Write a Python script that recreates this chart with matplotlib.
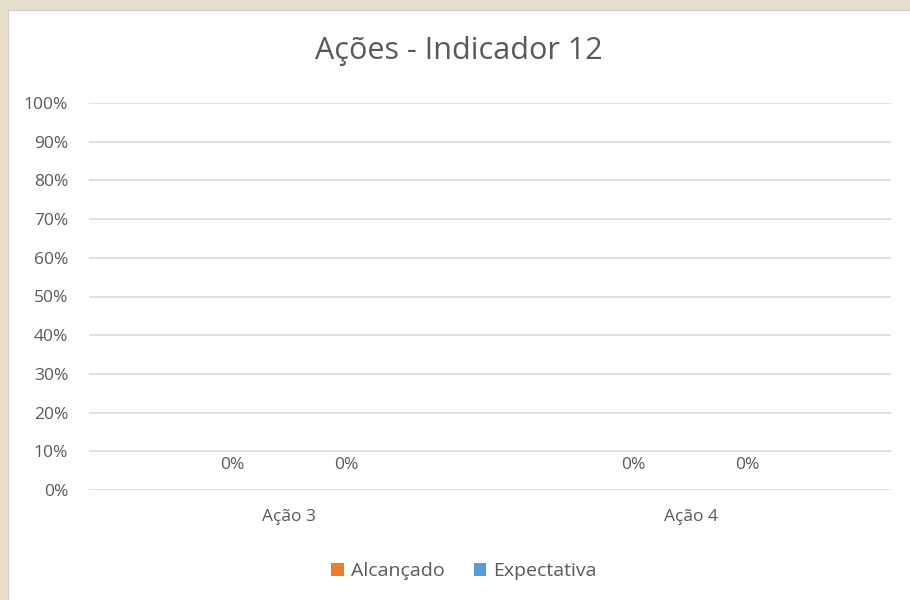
import matplotlib.pyplot as plt
import numpy as np
from matplotlib.patches import Rectangle

categories = ["Ação 3", "Ação 4"]
series_names = ["Alcançado", "Expectativa"]
alcancado = [0.0, 0.0]
expectativa = [0.0, 0.0]
series_colors = ["#ED7D31", "#5B9BD5"]
yticks = [0, 10, 20, 30, 40, 50, 60, 70, 80, 90, 100]

TEXT = "#595959"
GRID = "#D9D9D9"
FONT = ["Open Sans", "DejaVu Sans"]

plt.rcParams["font.family"] = FONT

fig = plt.figure(figsize=(9.1, 6.0), dpi=100)
fig.patch.set_facecolor("#E6DCCB")
fig.patches.append(Rectangle((8 / 910, 0), 1, 1 - 10 / 600, transform=fig.transFigure,
                             facecolor="white", edgecolor="#D0CCC4", lw=0.8, zorder=-10))

ax = fig.add_axes([89 / 910, 1 - 490 / 600, 802 / 910, 387 / 600])
ax.set_facecolor("none")

x = np.arange(len(categories))
width = 0.27
offsets = [-0.142, 0.142]
for vals, off, color, name in zip([alcancado, expectativa], offsets, series_colors, series_names):
    pct = np.asarray(vals) * 100
    bars = ax.bar(x + off, pct, width, color=color, label=name, zorder=2)
    for b, v in zip(bars, pct):
        ax.annotate(f"{v:.0f}%", (b.get_x() + b.get_width() / 2, v),
                    xytext=(0, 12), textcoords="offset points",
                    ha="center", va="bottom", fontsize=12.5, color=TEXT)

ax.set_xlim(-0.5, len(categories) - 0.5)
ax.set_ylim(0, 100)
ax.set_yticks(yticks)
ax.set_yticklabels([f"{t}%" for t in yticks])
ax.set_xticks(x)
ax.set_xticklabels(categories)
ax.yaxis.grid(True, color=GRID, lw=1.1)
ax.set_axisbelow(True)
for s in ax.spines.values():
    s.set_visible(False)
ax.tick_params(axis="both", length=0, colors=TEXT, labelsize=12.5)
ax.tick_params(axis="y", pad=15)
ax.tick_params(axis="x", pad=14)

fig.text(459 / 910, 1 - 51 / 600, "Ações - Indicador 12", ha="center", va="center",
         fontsize=22, color=TEXT)

leg = fig.legend(loc="center", bbox_to_anchor=(464 / 910, 1 - 571 / 600), ncol=2,
                 frameon=False, fontsize=14, handlelength=0.65, handleheight=0.65,
                 handletextpad=0.35, columnspacing=1.5, labelcolor=TEXT)

fig.savefig("out.png", dpi=100)
